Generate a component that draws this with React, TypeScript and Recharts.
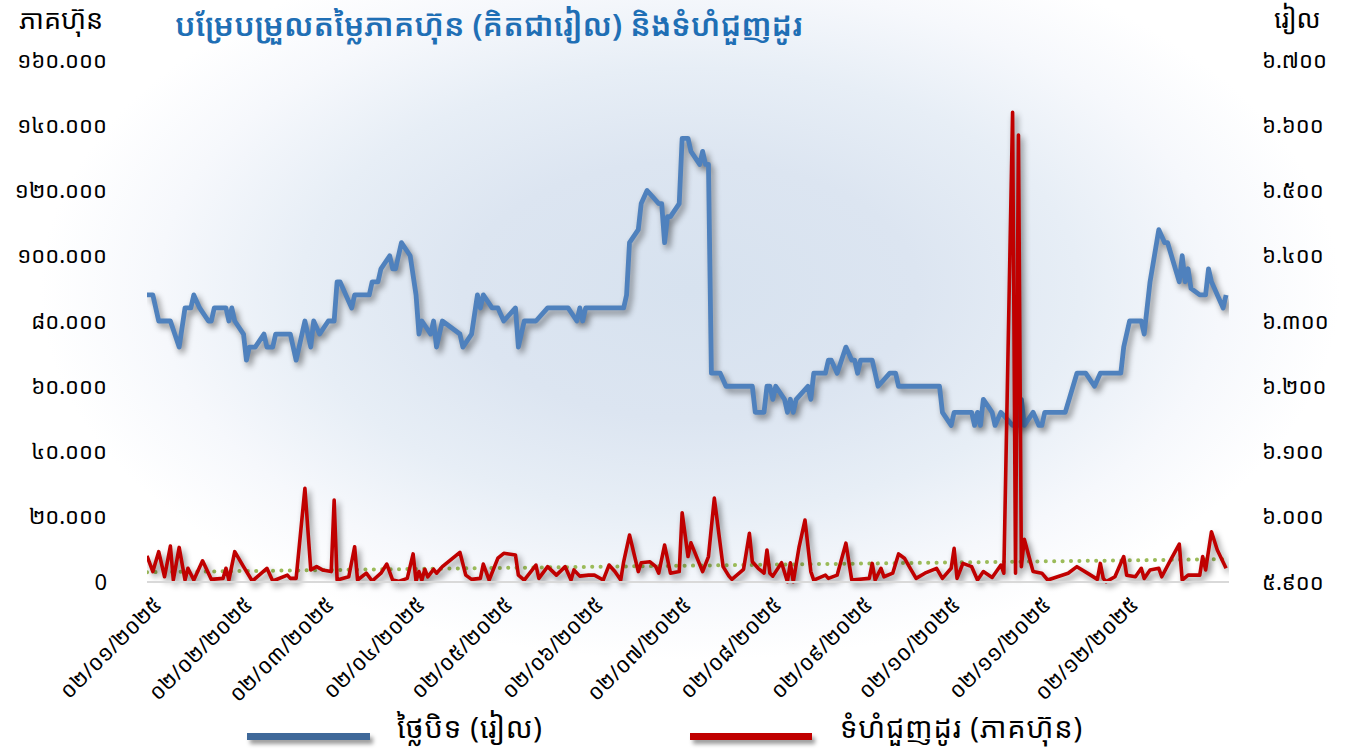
import React from 'react';
import { LineChart, Line, XAxis, YAxis } from 'recharts';

// ---- tick labels ----
const monthTickDays = [0, 31, 59, 90, 120, 151, 181, 212, 243, 273, 304, 334];
const monthTickLabels = [
  '០២/០១/២០២៥', '០២/០២/២០២៥', '០២/០៣/២០២៥', '០២/០៤/២០២៥', '០២/០៥/២០២៥', '០២/០៦/២០២៥',
  '០២/០៧/២០២៥', '០២/០៨/២០២៥', '០២/០៩/២០២៥', '០២/១០/២០២៥', '០២/១១/២០២៥', '០២/១២/២០២៥',
];
const volumeTickValues = [0, 20000, 40000, 60000, 80000, 100000, 120000, 140000, 160000];
const volumeTickLabels = ['0', '២០.០០០', '៤០.០០០', '៦០.០០០', '៨០.០០០', '១០០.០០០', '១២០.០០០', '១៤០.០០០', '១៦០.០០០'];
const priceTickValues = [5900, 6000, 6100, 6200, 6300, 6400, 6500, 6600, 6700];
const priceTickLabels = ['៥.៩០០', '៦.០០០', '៦.១០០', '៦.២០០', '៦.៣០០', '៦.៤០០', '៦.៥០០', '៦.៦០០', '៦.៧០០'];

// ---- closing price (riel), day offset from 02/01/2025 ----
const priceDays = [0, 2, 4, 8, 11, 13, 15, 16, 18, 21, 22, 23, 27, 28, 29, 30, 33, 34, 35, 37, 40, 41, 43, 44, 49, 51, 54, 56, 57, 59, 62, 64, 65, 66, 68, 70, 71, 76, 77, 79, 80, 83, 84, 85, 87, 90, 92, 93, 94, 97, 98, 99, 101, 107, 108, 111, 113, 114, 115, 118, 120, 122, 126, 127, 129, 133, 137, 144, 147, 148, 149, 150, 163, 164, 165, 168, 169, 171, 175, 176, 177, 178, 179, 182, 183, 185, 186, 189, 190, 191, 192, 193, 196, 198, 207, 208, 211, 212, 213, 214, 215, 218, 219, 220, 221, 222, 226, 227, 228, 232, 233, 234, 236, 239, 241, 242, 243, 244, 248, 250, 254, 256, 257, 271, 272, 275, 276, 282, 283, 284, 285, 286, 289, 290, 292, 294, 296, 298, 299, 300, 303, 305, 306, 307, 314, 318, 321, 324, 326, 333, 334, 336, 340, 341, 343, 346, 348, 349, 353, 354, 355, 356, 357, 360, 362, 363, 364, 368, 369];
const priceValues = [6340, 6340, 6300, 6300, 6260, 6320, 6320, 6340, 6320, 6300, 6300, 6320, 6320, 6300, 6320, 6300, 6280, 6240, 6260, 6260, 6280, 6260, 6260, 6280, 6280, 6240, 6300, 6260, 6300, 6280, 6300, 6300, 6360, 6360, 6340, 6320, 6340, 6340, 6360, 6360, 6380, 6400, 6380, 6380, 6420, 6400, 6340, 6280, 6300, 6280, 6300, 6260, 6300, 6280, 6260, 6280, 6340, 6320, 6340, 6320, 6320, 6300, 6320, 6260, 6300, 6300, 6320, 6320, 6300, 6320, 6300, 6320, 6320, 6340, 6420, 6440, 6480, 6500, 6480, 6480, 6420, 6460, 6460, 6480, 6580, 6580, 6560, 6540, 6560, 6540, 6540, 6220, 6220, 6200, 6200, 6160, 6160, 6200, 6200, 6180, 6200, 6180, 6160, 6180, 6160, 6180, 6200, 6180, 6220, 6220, 6240, 6240, 6220, 6260, 6240, 6240, 6220, 6240, 6240, 6200, 6220, 6220, 6200, 6200, 6160, 6140, 6160, 6160, 6140, 6160, 6140, 6180, 6160, 6140, 6160, 6150, 6140, 6140, 6180, 6140, 6160, 6140, 6140, 6160, 6160, 6220, 6220, 6200, 6220, 6220, 6260, 6300, 6300, 6280, 6360, 6440, 6420, 6420, 6360, 6400, 6360, 6380, 6350, 6340, 6340, 6380, 6360, 6320, 6340];

// ---- trading volume (shares) ----
const volumeDays = [0, 2, 4, 6, 8, 9, 11, 13, 14, 16, 19, 22, 26, 27, 28, 30, 33, 36, 41, 43, 48, 49, 51, 54, 56, 58, 60, 63, 64, 65, 69, 71, 72, 75, 77, 80, 82, 84, 86, 89, 91, 92, 93, 94, 95, 96, 98, 99, 101, 107, 109, 111, 114, 115, 117, 120, 122, 126, 127, 129, 133, 134, 137, 140, 143, 145, 146, 148, 151, 153, 156, 158, 160, 162, 163, 165, 168, 169, 172, 174, 175, 177, 179, 182, 183, 185, 186, 190, 192, 194, 197, 199, 200, 204, 206, 207, 209, 211, 212, 213, 214, 217, 219, 220, 221, 223, 225, 227, 228, 232, 233, 236, 239, 241, 247, 248, 249, 251, 252, 255, 257, 259, 261, 263, 266, 270, 272, 275, 276, 277, 279, 282, 284, 286, 289, 292, 293, 296, 297, 298, 299, 300, 303, 306, 308, 315, 318, 322, 325, 326, 327, 328, 331, 334, 335, 338, 340, 341, 343, 346, 347, 350, 353, 354, 356, 360, 361, 362, 364, 366, 369];
const volumeValues = [8000, 3200, 9300, 1600, 11000, 600, 10600, 600, 4200, 600, 6500, 800, 1100, 4200, 600, 9300, 4700, 300, 4200, 300, 2100, 1100, 1100, 28700, 3700, 4700, 3700, 3200, 25100, 600, 1600, 10800, 600, 2700, 300, 2700, 5500, 600, 200, 1100, 8600, 300, 3200, 600, 3900, 1600, 3900, 2700, 4700, 9100, 2100, 800, 1100, 5500, 600, 7300, 8800, 8300, 2100, 600, 5200, 1100, 4700, 2100, 4700, 600, 3700, 1800, 2100, 2100, 600, 5200, 3200, 600, 6200, 14400, 3200, 5900, 6200, 4700, 2700, 11300, 2700, 3200, 21200, 7800, 12000, 3200, 7800, 25700, 4700, 1800, 800, 3900, 14900, 6200, 4200, 2700, 9800, 2700, 1800, 5900, 100, 5900, 100, 10800, 19000, 3200, 600, 2100, 1100, 2100, 11900, 600, 1100, 5700, 600, 4200, 1600, 2700, 8600, 7300, 4200, 1100, 2700, 4200, 1100, 4200, 10300, 1100, 5700, 4700, 600, 3200, 1400, 5200, 2700, 144000, 2700, 137000, 4700, 13100, 3200, 2700, 600, 2700, 4700, 2500, 800, 5700, 1100, 100, 1600, 7800, 2100, 1600, 4200, 1100, 3700, 4200, 1600, 6700, 11600, 600, 2100, 2100, 7800, 3700, 15400, 9800, 4200];

// ---- volume trend line (end points) ----
const trendDays = [0, 369];
const trendValues = [3000, 7000];

const priceData = priceDays.map((d, i) => ({ day: d, price: priceValues[i] }));
const volumeData = volumeDays.map((d, i) => ({ day: d, volume: volumeValues[i] }));
const trendData = trendDays.map((d, i) => ({ day: d, trend: trendValues[i] }));

const FONT = "'Noto Sans Khmer','Khmer OS System','Khmer OS','Noto Sans',sans-serif";

const MonthTick = (props: any) => {
  const { x, y, payload } = props;
  const idx = monthTickDays.indexOf(payload.value);
  const ax = x + 16;
  const ay = y + 24;
  return (
    <text x={ax} y={ay} transform={`rotate(-45, ${ax}, ${ay})`} textAnchor="end" fontSize={21.5} fill="#000" fontFamily={FONT}>
      {idx >= 0 ? monthTickLabels[idx] : ''}
    </text>
  );
};

const VolumeTick = (props: any) => {
  const { x, y, payload } = props;
  const idx = volumeTickValues.indexOf(payload.value);
  return (
    <text x={x} y={y} dy="0.35em" textAnchor="end" fontSize={22} fill="#000" fontFamily={FONT}>
      {idx >= 0 ? volumeTickLabels[idx] : ''}
    </text>
  );
};

const PriceTick = (props: any) => {
  const { x, y, payload } = props;
  const idx = priceTickValues.indexOf(payload.value);
  return (
    <text x={x} y={y} dy="0.35em" textAnchor="start" fontSize={22} fill="#000" fontFamily={FONT}>
      {idx >= 0 ? priceTickLabels[idx] : ''}
    </text>
  );
};

const SHADOW_CSS = `
.recharts-line-curve[stroke="#4f81bd"],
.recharts-line-curve[stroke="#c00000"] {
  filter: drop-shadow(3px 4px 3px rgba(0,0,0,0.45));
}
`;

export default function App() {
  return (
    <div
      style={{
        position: 'absolute',
        left: 0,
        top: 0,
        width: 1349,
        height: 753,
        overflow: 'hidden',
        fontFamily: FONT,
        background:
          'radial-gradient(ellipse 650px 370px at 690px 290px, #d7e2ef 0%, #dce5f1 35%, #e7eef6 60%, #f6f8fc 82%, #ffffff 100%)',
      }}
    >
      <style>{SHADOW_CSS}</style>
      <div style={{ position: 'absolute', left: 19, top: 0, fontSize: 27, color: '#000' }}>ភាគហ៊ុន</div>
      <div style={{ position: 'absolute', left: 1274, top: 0, fontSize: 26, color: '#000' }}>រៀល</div>
      <div style={{ position: 'absolute', left: 175, top: 3, fontSize: 31, fontWeight: 600, color: '#1f6fb5', whiteSpace: 'nowrap' }}>
        បម្រែបម្រួលតម្លៃភាគហ៊ុន (គិតជារៀល) និងទំហំជួញដូរ
      </div>
      <div style={{ position: 'absolute', left: 0, top: 0 }}>
        <LineChart width={1349} height={753} margin={{ top: 60, right: 10, bottom: 51, left: 7 }}>
          <XAxis
            dataKey="day"
            type="number"
            domain={[0, 370]}
            ticks={monthTickDays}
            interval={0}
            tick={<MonthTick />}
            tickLine={false}
            tickSize={0}
            tickMargin={0}
            height={120}
            axisLine={{ stroke: '#d9d9d9', strokeWidth: 2 }}
            allowDataOverflow
          />
          <YAxis
            yAxisId="vol"
            orientation="left"
            width={140}
            domain={[0, 160000]}
            ticks={volumeTickValues}
            interval={0}
            tick={<VolumeTick />}
            axisLine={false}
            tickLine={false}
            tickSize={0}
            tickMargin={40}
          />
          <YAxis
            yAxisId="price"
            orientation="right"
            width={110}
            domain={[5900, 6700]}
            ticks={priceTickValues}
            interval={0}
            tick={<PriceTick />}
            axisLine={false}
            tickLine={false}
            tickSize={0}
            tickMargin={33}
          />
          <Line
            yAxisId="price"
            data={priceData}
            dataKey="price"
            type="linear"
            stroke="#4f81bd"
            strokeWidth={4.8}
            dot={false}
            activeDot={false}
            strokeLinejoin="round"
            isAnimationActive={false}
          />
          <Line
            yAxisId="vol"
            data={trendData}
            dataKey="trend"
            type="linear"
            stroke="#9bbb59"
            strokeWidth={4}
            strokeDasharray="0.1 8.3"
            strokeLinecap="round"
            dot={false}
            activeDot={false}
            isAnimationActive={false}
          />
          <Line
            yAxisId="vol"
            data={volumeData}
            dataKey="volume"
            type="linear"
            stroke="#c00000"
            strokeWidth={3.6}
            dot={false}
            activeDot={false}
            strokeLinejoin="round"
            isAnimationActive={false}
          />
        </LineChart>
      </div>
      <div style={{ position: 'absolute', left: 247, top: 733, width: 123, height: 7, background: '#3f6899', boxShadow: '3px 4px 4px rgba(0,0,0,0.4)' }} />
      <div style={{ position: 'absolute', left: 397, top: 707, fontSize: 29, color: '#000', whiteSpace: 'nowrap', letterSpacing: 0.8 }}>ថ្លៃបិទ (រៀល)</div>
      <div style={{ position: 'absolute', left: 690, top: 733, width: 122, height: 7, background: '#c00000', boxShadow: '3px 4px 4px rgba(0,0,0,0.4)' }} />
      <div style={{ position: 'absolute', left: 840, top: 707, fontSize: 29, color: '#000', whiteSpace: 'nowrap', letterSpacing: 0.8 }}>ទំហំជួញដូរ (ភាគហ៊ុន)</div>
    </div>
  );
}
